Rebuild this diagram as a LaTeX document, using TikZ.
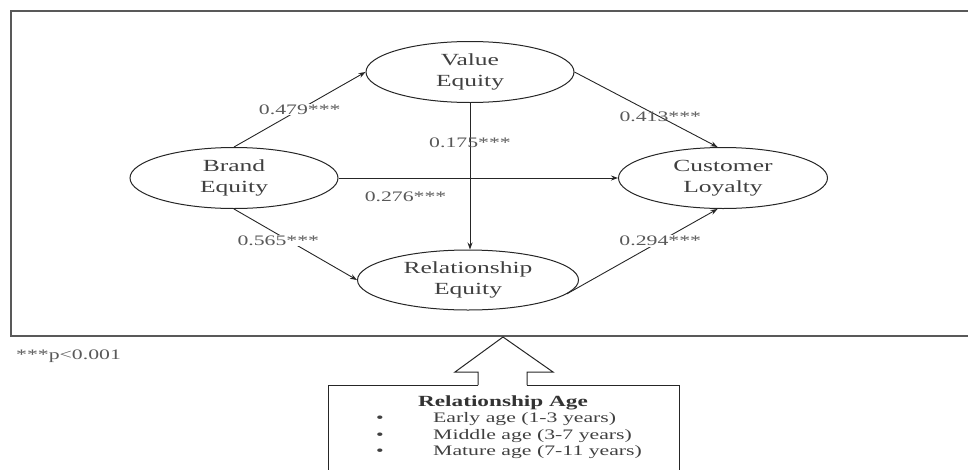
\documentclass[tikz,border=0pt]{standalone}
\usepackage{fontspec}
\setmainfont{Liberation Serif}[FakeStretch=1.5]
\usetikzlibrary{arrows.meta, shapes.geometric, positioning}

\begin{document}
\begin{tikzpicture}[x=1pt,y=-1pt,
    construct/.style={ellipse,draw=black!85,line width=1pt,inner sep=0pt,align=center,
                      text=black!75,font=\fontsize{17}{21}\selectfont},
    effect/.style={draw=black!85,line width=0.9pt,-{Stealth[length=7pt,width=5pt]}},
    coef/.style={font=\fontsize{14.5}{16}\selectfont,text=black!65,inner sep=1pt},
    ageitem/.style={font=\fontsize{14.5}{16}\selectfont,text=black!75,inner sep=0pt}]
  \useasboundingbox (0,0) rectangle (968,469);
  % model frame
  \draw[black!65,line width=1.5pt] (11,11) rectangle (975,336);
  % constructs
  \node[construct,minimum width=208pt,minimum height=61pt] (brand) at (234,178) {Brand\\Equity};
  \node[construct,minimum width=208pt,minimum height=61pt] (value) at (470,72) {Value\\Equity};
  \node[construct,minimum width=209pt,minimum height=61pt] (loyal) at (723,178) {Customer\\Loyalty};
  \node[construct,minimum width=221pt,minimum height=60pt] (rel) at (468,280) {Relationship\\Equity};
  % paths
  \draw[effect] (brand.north) -- node[coef,fill=white]{0.479***} (value.west);
  \draw[effect] (brand.south) -- node[coef,fill=white,pos=0.36,yshift=-6pt]{0.565***} (rel.west);
  \draw[effect] (brand.east) -- node[coef,below=12pt,pos=0.24]{0.276***} (loyal.west);
  \draw[effect] (value.east) -- node[coef,pos=0.6]{0.413***} (loyal.100);
  \draw[effect] (value.south) -- node[coef,pos=0.27]{0.175***} (value.south |- rel.north);
  \draw[effect] (rel.-8) -- node[coef,fill=white,pos=0.62]{0.294***} (loyal.-100);
  \node[coef,anchor=west] (note) at (15,356) {***p<0.001};
  % moderator box
  \draw[black!85,line width=1pt] (478,385) -- (328,385) -- (328,475) -- (679,475) -- (679,385) -- (527,385);
  \draw[black!85,line width=1pt] (478,385) -- (478,372) -- (455,372) -- (503,337) -- (553,372) -- (527,372) -- (527,385);
  \node[font=\bfseries\fontsize{15.5}{18}\selectfont,text=black!80] (agetitle) at (503,403) {Relationship Age};
  \node[ageitem] (dot1) at (380,419) {\textbullet};
  \node[ageitem] (dot2) at (380,436) {\textbullet};
  \node[ageitem] (dot3) at (380,452) {\textbullet};
  \node[ageitem,anchor=west] (early) at (433,419) {Early age (1-3 years)};
  \node[ageitem,anchor=west] (middle) at (433,436) {Middle age (3-7 years)};
  \node[ageitem,anchor=west] (mature) at (433,452) {Mature age (7-11 years)};
\end{tikzpicture}
\end{document}
